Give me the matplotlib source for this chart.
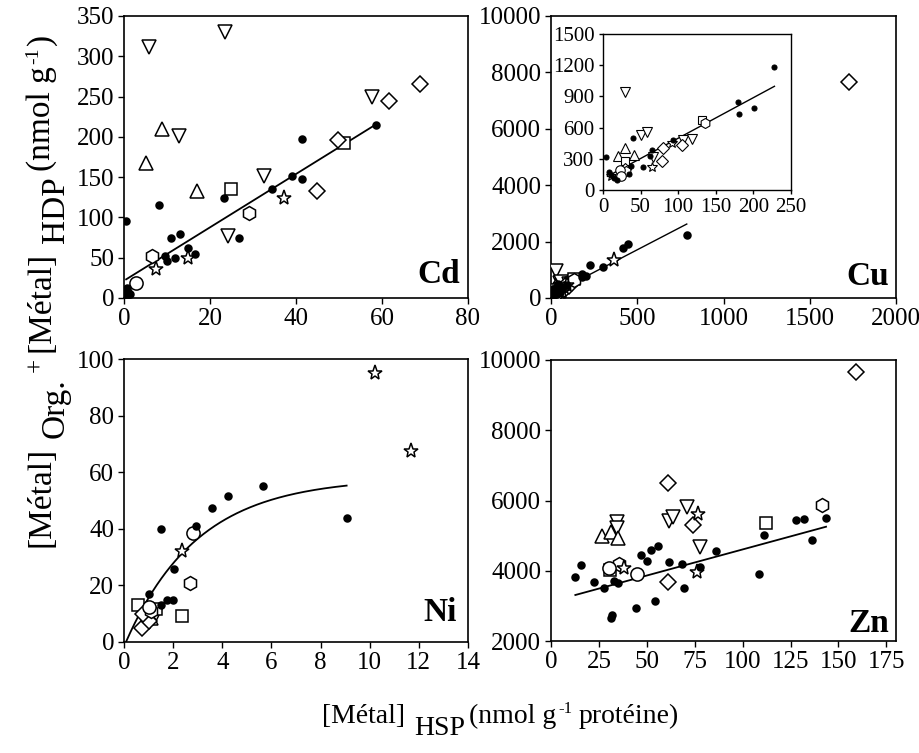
import numpy as np
import matplotlib
matplotlib.use('Agg')
import matplotlib.pyplot as plt

plt.rcParams['font.family'] = 'Liberation Serif'

W, H = 920, 753

# --- Cd ---
cd_dot = [(0.5, 95), (8.2, 116), (23.2, 124), (41.3, 197), (39.1, 151), (41.3, 148),
          (34.5, 135), (58.5, 215), (26.8, 74), (11.0, 74), (13.1, 79), (15.0, 62),
          (16.4, 55), (11.9, 50), (9.5, 52), (9.9, 46), (0.6, 12), (1.0, 8), (1.3, 5),
          (0.8, 3), (0.3, 7)]
cd_down = [(5.9, 312), (23.5, 330), (12.8, 201), (57.6, 250), (32.6, 152), (24.1, 77)]
cd_up = [(8.8, 210), (5.1, 167), (16.9, 133)]
cd_square = [(24.8, 135), (51.2, 192)]
cd_diamond = [(49.8, 196), (61.7, 244), (68.8, 266), (44.8, 133)]
cd_hexagon = [(29.1, 105), (6.4, 52)]
cd_circle = [(2.8, 19)]
cd_star = [(37.1, 124), (14.8, 50), (7.4, 36)]
cd_fit = (3.31, 21.5, 0.5, 58.5)   # slope, intercept, x from, x to

# --- Cu ---
cu_dot = [(4.4, 318), (8, 169), (14, 111), (10, 140), (18, 100), (40, 500), (53, 223),
          (34, 153), (37.5, 233), (65, 382), (62, 325), (93.6, 478), (180, 850),
          (181, 733), (200.8, 790), (227, 1178), (300, 1087), (419, 1785), (445, 1915),
          (787, 2234)]
cu_down = [(29.6, 946), (50, 525), (58, 557), (66, 318), (107, 484), (119, 494)]
cu_up = [(20, 328), (29.6, 408), (41, 334)]
cu_square = [(28.7, 280), (131, 675)]
cu_diamond = [(80, 408), (78, 277), (104.6, 430), (29, 200), (1730, 7670)]
cu_hexagon = [(136, 646), (30, 182)]
cu_circle = [(22, 197), (23.4, 137)]
cu_star = [(65, 223), (92, 452), (11, 130), (367, 1348)]
cu_fit = (3.18, 120, 10, 787)
cu_inset_fit = (3.9, 108, 6, 228)

# --- Ni ---
ni_dot = [(1.5, 40), (2.92, 41), (3.6, 47.5), (4.22, 51.6), (5.67, 55), (9.06, 43.9),
          (2.03, 25.9), (1.74, 14.8), (1.98, 14.8), (1.02, 16.9), (1.49, 13)]
ni_down = [(1.3, 10)]
ni_up = [(1.1, 8.5)]
ni_square = [(0.56, 13), (2.35, 9.3), (1.3, 11.5)]
ni_diamond = [(0.75, 5), (1.0, 7.5), (0.77, 10)]
ni_hexagon = [(2.69, 20.7), (1.1, 11)]
ni_circle = [(2.8, 38.6), (1.0, 12.5)]
ni_star = [(10.2, 95.2), (11.7, 67.5), (2.37, 32.2)]
ni_fit = (58.0, 0.34, 0.08, 9.06)  # plateau, rate, x from, x to

# --- Zn ---
zn_dot = [(12.4, 3813), (15.4, 4164), (22.4, 3690), (27.6, 3500), (32.8, 3717),
          (34.9, 3643), (31.1, 2646), (32, 2740), (44.6, 2930), (46.8, 4448), (50, 4287),
          (52, 4591), (55.6, 4713), (54.3, 3148), (61.5, 4240), (68.3, 4192), (69.5, 3500),
          (77.8, 4098), (86.2, 4562), (108.3, 3898), (111, 5018), (127.6, 5445),
          (131.9, 5473), (136, 4875), (143.5, 5510)]
zn_down = [(34.2, 5397), (34.6, 5207), (61.7, 5425), (63.4, 5540), (70.8, 5806), (77.8, 4685)]
zn_up = [(26.7, 4998), (31.4, 5112), (35.1, 4923)]
zn_square = [(30.6, 4021), (112.4, 5350)]
zn_diamond = [(159.2, 9667), (61.2, 6507), (74.3, 5303), (60.8, 3690)]
zn_hexagon = [(141.2, 5872), (35.5, 4183)]
zn_circle = [(44.7, 3907), (30, 4080)]
zn_star = [(76.9, 5615), (76.2, 3973), (38.1, 4070)]
zn_fit = (14.86, 3121, 12.7, 143.5)

# marker style per group: (marker, size, filled)
styles = {
    'down': ('v', 10, False), 'up': ('^', 10, False), 'square': ('s', 8.5, False),
    'diamond': ('D', 8.5, False), 'hexagon': ('h', 10, False), 'circle': ('o', 9.5, False),
    'star': ('*', 11, False), 'dot': ('o', 5, True),
}


def scatter_groups(ax, groups, xmax=None, scale=1.0):
    for name, pts in groups.items():
        if xmax is not None:
            pts = [p for p in pts if p[0] <= xmax]
        if not pts:
            continue
        m, s, filled = styles[name]
        x, y = zip(*pts)
        ax.plot(x, y, ls='none', marker=m, ms=s * scale,
                mfc='black' if filled else 'white', mec='black',
                mew=1.1 * scale, zorder=3)


def style_axes(ax, xlim, xticks, ylim, yticks, size=18, tick_len=4):
    ax.set_xlim(*xlim)
    ax.set_ylim(*ylim)
    ax.set_xticks(xticks)
    ax.set_yticks(yticks)
    ax.tick_params(direction='out', length=tick_len, width=1, labelsize=size,
                   top=False, right=False, pad=3)
    for sp in ax.spines.values():
        sp.set_linewidth(1.2)


def line_fit(ax, fit, lw=1.3):
    a, b, x0, x1 = fit
    xs = np.array([x0, x1])
    ax.plot(xs, a * xs + b, color='black', lw=lw, zorder=2)


def panel_label(ax, txt, x, y):
    ax.text(x, y, txt, transform=ax.transAxes, ha='right', va='baseline',
            fontsize=24, fontweight='bold')


def fig_box(l, r, t, b):
    return [l / W, 1 - b / H, (r - l) / W, (b - t) / H]


fig = plt.figure(figsize=(W / 100, H / 100), dpi=100)

ax_cd = fig.add_axes(fig_box(124, 468, 16, 298))
ax_cu = fig.add_axes(fig_box(551, 896, 16, 298))
ax_ni = fig.add_axes(fig_box(124, 468, 359, 642))
ax_zn = fig.add_axes(fig_box(551, 896, 360, 641))
ax_in = fig.add_axes(fig_box(603, 791, 34, 190))

# Cd
line_fit(ax_cd, cd_fit)
scatter_groups(ax_cd, dict(down=cd_down, up=cd_up, square=cd_square, diamond=cd_diamond,
                           hexagon=cd_hexagon, circle=cd_circle, star=cd_star, dot=cd_dot))
style_axes(ax_cd, (0, 80), range(0, 81, 20), (0, 350), range(0, 351, 50))
panel_label(ax_cd, 'Cd', 0.977, 0.053)

# Cu
cu_groups = dict(down=cu_down, up=cu_up, square=cu_square, diamond=cu_diamond,
                 hexagon=cu_hexagon, circle=cu_circle, star=cu_star, dot=cu_dot)
line_fit(ax_cu, cu_fit, lw=1.0)
scatter_groups(ax_cu, cu_groups)
style_axes(ax_cu, (0, 2000), range(0, 2001, 500), (0, 10000), range(0, 10001, 2000))
panel_label(ax_cu, 'Cu', 0.98, 0.046)

# Cu inset, low range only
line_fit(ax_in, cu_inset_fit, lw=1.0)
scatter_groups(ax_in, cu_groups, xmax=250, scale=0.72)
style_axes(ax_in, (0, 250), range(0, 251, 50), (0, 1500), range(0, 1501, 300),
           size=15, tick_len=3)
for sp in ax_in.spines.values():
    sp.set_linewidth(1.0)

# Ni
a, k, x0, x1 = ni_fit
xs = np.linspace(x0, x1, 200)
ax_ni.plot(xs, a * (1 - np.exp(-k * (xs - x0))), color='black', lw=1.3, zorder=2)
scatter_groups(ax_ni, dict(down=ni_down, up=ni_up, square=ni_square, diamond=ni_diamond,
                           hexagon=ni_hexagon, circle=ni_circle, star=ni_star, dot=ni_dot))
style_axes(ax_ni, (0, 14), range(0, 15, 2), (0, 100), range(0, 101, 20))
panel_label(ax_ni, 'Ni', 0.968, 0.074)

# Zn
line_fit(ax_zn, zn_fit)
scatter_groups(ax_zn, dict(down=zn_down, up=zn_up, square=zn_square, diamond=zn_diamond,
                           hexagon=zn_hexagon, circle=zn_circle, star=zn_star, dot=zn_dot))
style_axes(ax_zn, (0, 180), range(0, 176, 25), (2000, 10000), range(2000, 10001, 2000))
panel_label(ax_zn, 'Zn', 0.98, 0.032)

# axis titles built from pieces so the subscripts stay full size
renderer = fig.canvas.get_renderer()


def piece_width(txt, size):
    t = fig.text(0, 0, txt, fontsize=size)
    w = t.get_window_extent(renderer).width
    t.remove()
    return w


def draw_pieces(x, y, pieces, vertical=False):
    # pieces: (text, size, baseline shift px, gap before px)
    pos = 0.0
    for txt, size, shift, gap in pieces:
        pos += gap
        if vertical:
            px, py, rot = x - shift, y + pos, 90
        else:
            px, py, rot = x + pos, y + shift, 0
        fig.text(px / W, py / H, txt, fontsize=size, rotation=rot,
                 ha='left', va='baseline', rotation_mode='anchor')
        pos += piece_width(txt, size)


draw_pieces(322, H - 723, [('[Métal]', 20, 0, 0), ('HSP', 20, -12, 9),
                           ('(nmol g', 20, 0, 4), ('-1', 12, 10, 2),
                           ('protéine)', 20, 0, 6)])

draw_pieces(50, H - 547, [('[Métal]', 24, 0, 0), ('Org.', 24, -14, 9),
                          ('+', 18, 8, 6), ('[Métal]', 24, 0, 6), ('HDP', 24, -14, 9),
                          ('(nmol g', 24, 0, 5), ('-1', 14, 12, 2), (')', 24, 0, 3)],
            vertical=True)

fig.savefig('out.png', dpi=100)
